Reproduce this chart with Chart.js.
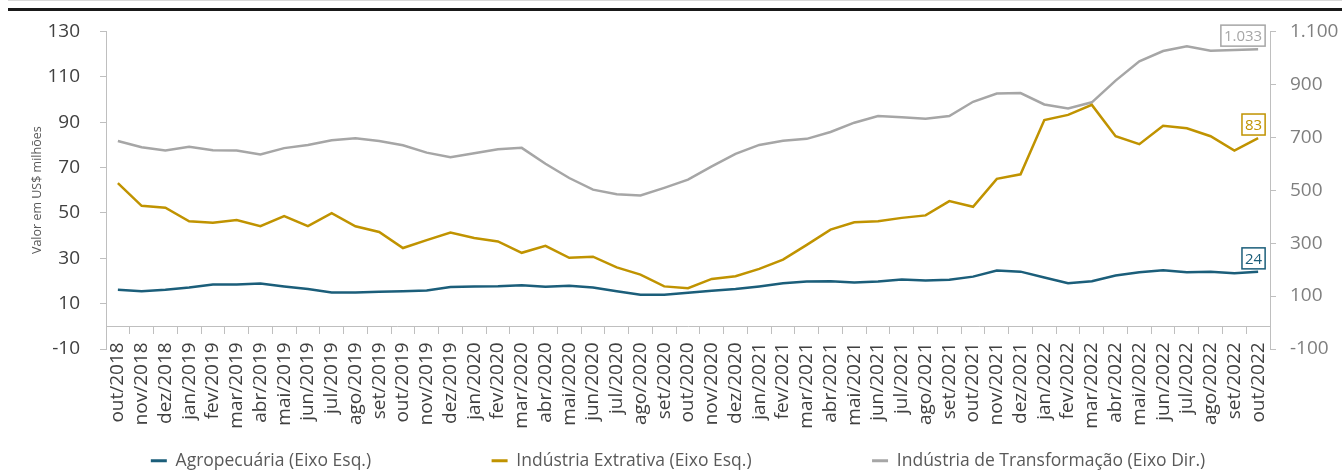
<!DOCTYPE html>
<html>
<head>
<meta charset="utf-8">
<script src="https://cdn.jsdelivr.net/npm/chart.js@4.4.1/dist/chart.umd.min.js"></script>
<style>
  body { margin: 0; background: #fff; }
  #wrap { position: relative; width: 1342px; height: 475px; }
  #topRule { position: absolute; left: 8px; right: 0; top: 8px; height: 3px; background: #1a1a1a; }
  #topFaint { position: absolute; left: 8px; right: 0; top: 0; height: 1px; background: #d9d9d9; }
  canvas { position: absolute; left: 0; top: 0; }
</style>
</head>
<body>
<div id="wrap">
  <canvas id="chart" width="1342" height="475"></canvas>
  <div id="topFaint"></div>
  <div id="topRule"></div>
</div>
<script>
const months = [
  "out/2018", "nov/2018", "dez/2018",
  "jan/2019", "fev/2019", "mar/2019", "abr/2019", "mai/2019", "jun/2019",
  "jul/2019", "ago/2019", "set/2019", "out/2019", "nov/2019", "dez/2019",
  "jan/2020", "fev/2020", "mar/2020", "abr/2020", "mai/2020", "jun/2020",
  "jul/2020", "ago/2020", "set/2020", "out/2020", "nov/2020", "dez/2020",
  "jan/2021", "fev/2021", "mar/2021", "abr/2021", "mai/2021", "jun/2021",
  "jul/2021", "ago/2021", "set/2021", "out/2021", "nov/2021", "dez/2021",
  "jan/2022", "fev/2022", "mar/2022", "abr/2022", "mai/2022", "jun/2022",
  "jul/2022", "ago/2022", "set/2022", "out/2022"
];

// US$ milhões - eixo esquerdo
const agropecuaria = [
  16.1, 15.5, 16.1, 17.1, 18.4, 18.4, 18.9, 17.6, 16.4, 14.9, 14.9, 15.2,
  15.5, 15.8, 17.3, 17.6, 17.7, 18.1, 17.4, 17.9, 17.1, 15.5, 13.9, 13.9,
  14.8, 15.7, 16.4, 17.6, 19.0, 19.7, 19.9, 19.3, 19.8, 20.6, 20.2, 20.5,
  21.9, 24.6, 24.1, 21.5, 19.0, 19.9, 22.4, 23.8, 24.7, 23.8, 24.1, 23.4, 24
];
const extrativa = [
  63.1, 53.1, 52.3, 46.3, 45.7, 46.9, 44.1, 48.6, 44.2, 49.9, 44.1, 41.6,
  34.5, 38.0, 41.3, 38.9, 37.4, 32.4, 35.5, 30.2, 30.7, 26.0, 22.8, 17.6,
  16.8, 20.9, 22.1, 25.3, 29.4, 35.9, 42.6, 45.9, 46.3, 47.8, 48.9, 55.2,
  52.7, 65.0, 67.0, 90.9, 93.2, 97.6, 83.8, 80.3, 88.4, 87.3, 83.8, 77.5, 83
];
// US$ milhões - eixo direito
const transformacao = [
  686, 662, 650, 664, 651, 650, 635, 659, 671, 689, 696, 686,
  670, 642, 625, 640, 655, 660, 600, 546, 502, 485, 480, 509,
  540, 590, 637, 671, 687, 694, 720, 755, 780, 776, 770, 780,
  834, 865, 867, 824, 809, 832, 914, 987, 1026, 1044, 1027, 1030, 1033
];

const leftTicks = { min: -10, max: 130, step: 20 };
const rightTicks = { min: -100, max: 1100, step: 200 };

const C_AGRO = "#1b5e7a";
const C_EXTR = "#c09300";
const C_TRANSF = "#a6a6a6";
const AXIS = "#bfbfbf";

Chart.defaults.font.family = "'Open Sans', sans-serif";

function ptBR(v) {
  return String(Math.round(v)).replace(/\B(?=(\d{3})+(?!\d))/g, ".");
}

// boxed label on the last point of each line
const lastLabels = {
  id: "lastLabels",
  afterDatasetsDraw(chart) {
    const ctx = chart.ctx;
    ctx.save();
    ctx.font = "15px 'Open Sans', sans-serif";
    ctx.textAlign = "center";
    ctx.textBaseline = "middle";
    chart.data.datasets.forEach((ds, i) => {
      const meta = chart.getDatasetMeta(i);
      const pt = meta.data[meta.data.length - 1];
      const txt = ptBR(ds.data[ds.data.length - 1]);
      const w = ctx.measureText(txt).width + 6;
      const h = 21;
      const right = pt.x + 7;
      const bottom = pt.y - 3;
      ctx.fillStyle = "#fff";
      ctx.fillRect(right - w, bottom - h, w, h);
      ctx.strokeStyle = ds.borderColor;
      ctx.lineWidth = 1.5;
      ctx.strokeRect(right - w, bottom - h, w, h);
      ctx.fillStyle = ds.borderColor;
      ctx.fillText(txt, right - w / 2, bottom - h / 2 + 1);
    });
    ctx.restore();
  }
};

new Chart(document.getElementById("chart"), {
  type: "line",
  data: {
    labels: months,
    datasets: [
      { label: "Agropecuária (Eixo Esq.)", data: agropecuaria, yAxisID: "y",
        borderColor: C_AGRO, backgroundColor: C_AGRO },
      { label: "Indústria Extrativa (Eixo Esq.)", data: extrativa, yAxisID: "y",
        borderColor: C_EXTR, backgroundColor: C_EXTR },
      { label: "Indústria de Transformação (Eixo Dir.)", data: transformacao, yAxisID: "y1",
        borderColor: C_TRANSF, backgroundColor: C_TRANSF }
    ]
  },
  options: {
    responsive: false,
    animation: false,
    elements: {
      line: { borderWidth: 2.5, tension: 0, fill: false },
      point: { radius: 0 }
    },
    layout: { padding: { top: 29, left: 14, right: 0, bottom: -4.5 } },
    plugins: {
      tooltip: { enabled: false },
      legend: {
        position: "bottom",
        labels: {
          boxWidth: 16,
          boxHeight: 3,
          padding: 103,
          color: "#595959",
          font: { size: 17.5 },
          generateLabels: (chart) => chart.data.datasets.map((ds, i) => ({
            text: ds.label + (i < 2 ? "\u2002\u2002" : ""),
            fillStyle: ds.borderColor,
            strokeStyle: ds.borderColor,
            lineWidth: 0,
            fontColor: "#595959",
            datasetIndex: i,
            hidden: false
          }))
        }
      }
    },
    scales: {
      x: {
        position: { y: 0 },
        offset: true,
        border: { color: AXIS, width: 1 },
        grid: { display: true, drawOnChartArea: false, drawTicks: true, tickLength: 7, color: AXIS, offset: true },
        ticks: {
          autoSkip: false, minRotation: 90, maxRotation: 90, padding: 9,
          color: "#404040", font: { size: 19 }
        }
      },
      y: {
        position: "left",
        min: leftTicks.min, max: leftTicks.max,
        border: { color: AXIS, width: 1 },
        grid: { drawOnChartArea: false, drawTicks: true, tickLength: 6, color: AXIS },
        ticks: { stepSize: leftTicks.step, padding: 20, color: "#404040", font: { size: 19 } },
        title: {
          display: true, text: "Valor em US$ milhões", color: "#595959",
          font: { size: 12.5 }, padding: { top: 16, bottom: 0 }
        },
        afterFit: (s) => { s.width = 92; }
      },
      y1: {
        position: "right",
        min: rightTicks.min, max: rightTicks.max,
        border: { color: AXIS, width: 1 },
        grid: { drawOnChartArea: false, drawTicks: true, tickLength: 6, color: AXIS },
        ticks: {
          stepSize: rightTicks.step, padding: 14, color: "#7f7f7f", font: { size: 19 },
          callback: (v) => ptBR(v)
        },
        afterFit: (s) => { s.width = 72; }
      }
    }
  },
  plugins: [lastLabels]
});
</script>
</body>
</html>
